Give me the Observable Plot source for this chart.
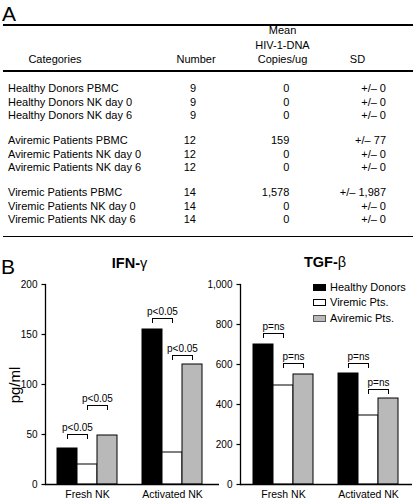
<!DOCTYPE html>
<html>
<head>
<meta charset="utf-8">
<script src="https://cdn.jsdelivr.net/npm/d3@7"></script>
<script src="https://cdn.jsdelivr.net/npm/@observablehq/plot@0.6"></script>
<style>
  body { margin: 0; background: #fff; }
  #root { position: relative; width: 418px; height: 502px; overflow: hidden;
          font-family: "Liberation Sans", Arial, Helvetica, sans-serif; color: #000; background: #fff; }
  .abs { position: absolute; white-space: nowrap; }
  .hr { position: absolute; left: 3px; width: 410px; height: 1.6px; background: #000; }
  .chart { position: absolute; top: 270px; }
  .sw { position: absolute; width: 13px; height: 7px; box-sizing: border-box; }
</style>
</head>
<body>
<div id="root"></div>
<script>
// ---------- Panel A data ----------
const categories = [
  "Healthy Donors PBMC", "Healthy Donors NK day 0", "Healthy Donors NK day 6",
  "Aviremic Patients PBMC", "Aviremic Patients NK day 0", "Aviremic Patients NK day 6",
  "Viremic Patients PBMC", "Viremic Patients NK day 0", "Viremic Patients NK day 6"
];
const rowGroup = [0, 0, 0, 1, 1, 1, 2, 2, 2];
const numbers = [9, 9, 9, 12, 12, 12, 14, 14, 14];
const meanHIV = [0, 0, 0, 159, 0, 0, 1578, 0, 0];
const sdHIV = [0, 0, 0, 77, 0, 0, 1987, 0, 0];
const tableHeaders = ["Categories", "Number", "Mean", "HIV-1-DNA", "Copies/ug", "SD"];

// ---------- Panel B data ----------
const groups = ["Fresh NK", "Activated NK"];
const seriesNames = ["Healthy Donors", "Viremic Pts.", "Aviremic Pts."];
const ifnHealthy = [36, 155];
const ifnViremic = [20, 32];
const ifnAviremic = [49, 120];
const tgfHealthy = [700, 555];
const tgfViremic = [495, 345];
const tgfAviremic = [550, 430];
const ifnTicks = [0, 50, 100, 150, 200];
const tgfTicks = [0, 200, 400, 600, 800, 1000];
// significance brackets: group, pair of bars, level (data units), label
const bracketGroup = ["Fresh NK", "Fresh NK", "Activated NK", "Activated NK"];
const bracketPair = ["HV", "VA", "HV", "VA"];
const ifnBracketLevel = [50, 79, 166, 129];
const tgfBracketLevel = [755, 605, 605, 475];
const ifnBracketLabel = "p<0.05";
const tgfBracketLabel = "p=ns";

// ---------- layout helpers ----------
const FONT = '"Liberation Sans", Arial, Helvetica, sans-serif';
const root = d3.select("#root");
function addText(str, {x, baseline, size = 11, anchor = "start", weight = "normal", html = false}) {
  const d = root.append("div").attr("class", "abs")
    .style("font-size", size + "px").style("line-height", size + "px")
    .style("top", (baseline - 0.8465 * size) + "px")
    .style("font-weight", weight);
  if (anchor === "start") d.style("left", x + "px");
  else if (anchor === "end") d.style("right", (418 - x) + "px");
  else d.style("left", x + "px").style("transform", "translateX(-50%)");
  if (html) d.html(str); else d.text(str);
  return d;
}
function addRule(top) { root.append("div").attr("class", "hr").style("top", top + "px"); }

// ---------- Panel A: table ----------
addText("A", {x: 2, baseline: 20.5, size: 21});
addRule(24.2);
addText(tableHeaders[2], {x: 282.5, baseline: 34.4, anchor: "middle"});
addText(tableHeaders[3], {x: 282.5, baseline: 49, anchor: "middle"});
addText(tableHeaders[4], {x: 282.5, baseline: 63.6, anchor: "middle"});
addText(tableHeaders[0], {x: 55, baseline: 63.6, anchor: "middle"});
addText(tableHeaders[1], {x: 196, baseline: 63.6, anchor: "middle"});
addText(tableHeaders[5], {x: 357.5, baseline: 63.6, anchor: "middle"});
addRule(70.2);
const fmt = d3.format(",");
let within = 0;
categories.forEach((c, i) => {
  if (i > 0 && rowGroup[i] !== rowGroup[i - 1]) within = 0;
  const slot = rowGroup[i] * 3.85 + within;
  const base = 92.3 + slot * 13.55;
  addText(c, {x: 8, baseline: base});
  addText(String(numbers[i]), {x: 196, baseline: base, anchor: "end"});
  addText(fmt(meanHIV[i]), {x: 289.3, baseline: base, anchor: "end"});
  addText("+/\u2013 " + fmt(sdHIV[i]), {x: 386, baseline: base, anchor: "end"});
  within++;
});
addRule(235.8);

// ---------- Panel B ----------
addText("B", {x: 1, baseline: 273.5, size: 21});
addText('IFN-<span style="font-weight:normal">\u03b3</span>', {x: 129.5, baseline: 268, size: 14.5, anchor: "middle", weight: "bold", html: true});
addText('TGF-<span style="font-weight:normal">\u03b2</span>', {x: 325, baseline: 267.5, size: 14.5, anchor: "middle", weight: "bold", html: true});
root.append("div").attr("class", "abs")
  .style("left", "13.5px").style("top", "385px")
  .style("font-size", "15px").style("line-height", "15px")
  .style("transform", "translate(-50%,-50%) rotate(-90deg)")
  .text("pg/ml");

const GRAY = "#b9b9b9";
function barChart({left, width, marginLeft, healthy, viremic, aviremic, yMax, ticks, levels, label, gapLeft}) {
  const L = width - marginLeft;
  const pi = 25 / 85;
  const bwTarget = 60;
  const outerTotal = L - (2 * bwTarget + 25);
  const po = outerTotal / 2 / 85;
  const align = gapLeft / outerTotal;
  const step = L / (groups.length - pi + 2 * po);
  const bw = step * (1 - pi);
  const rows = (vals) => groups.map((g, i) => ({g, v: vals[i]}));
  const br = bracketGroup.map((g, i) => ({g, pair: bracketPair[i], y: levels[i], label}));
  const HV = br.filter(d => d.pair === "HV");
  const VA = br.filter(d => d.pair === "VA");
  const plot = Plot.plot({
    width, height: 232,
    marginLeft, marginRight: 0, marginTop: 14, marginBottom: 18,
    style: {background: "transparent", fontFamily: FONT, overflow: "visible", color: "#000"},
    x: {type: "band", domain: groups, paddingInner: pi, paddingOuter: po, align},
    y: {domain: [0, yMax]},
    marks: [
      Plot.barY(rows(healthy), {x: "g", y: "v", fill: "#000", stroke: "#000", insetLeft: 0, insetRight: 2 * bw / 3}),
      Plot.barY(rows(viremic), {x: "g", y: "v", fill: "#fff", stroke: "#000", insetLeft: bw / 3, insetRight: bw / 3}),
      Plot.barY(rows(aviremic), {x: "g", y: "v", fill: GRAY, stroke: "#000", insetLeft: 2 * bw / 3, insetRight: 0}),
      Plot.ruleY([0], {strokeWidth: 1.3}),
      Plot.frame({anchor: "left", strokeWidth: 1.3}),
      Plot.axisY({ticks, tickSize: 3.5, tickPadding: 4.5, fontSize: 10, label: null, strokeWidth: 1.2}),
      Plot.axisX({tickSize: 0, tickPadding: 6, fontSize: 10.5, label: null}),
      Plot.tickY(HV, {x: "g", y: "y", insetLeft: bw / 6, insetRight: bw / 2}),
      Plot.tickY(VA, {x: "g", y: "y", insetLeft: bw / 2, insetRight: bw / 6}),
      Plot.ruleX(HV, {x: "g", y1: "y", y2: "y", insetTop: 5, dx: -bw / 3}),
      Plot.ruleX(HV, {x: "g", y1: "y", y2: "y", insetTop: 5, dx: 0}),
      Plot.ruleX(VA, {x: "g", y1: "y", y2: "y", insetTop: 5, dx: 0}),
      Plot.ruleX(VA, {x: "g", y1: "y", y2: "y", insetTop: 5, dx: bw / 3}),
      Plot.text(HV, {x: "g", y: "y", text: "label", dx: -bw / 6, dy: -3.5, lineAnchor: "bottom", fontSize: 10}),
      Plot.text(VA, {x: "g", y: "y", text: "label", dx: bw / 6, dy: -3.5, lineAnchor: "bottom", fontSize: 10})
    ]
  });
  const wrap = root.append("div").attr("class", "chart").style("left", left + "px");
  wrap.node().appendChild(plot);
}

barChart({left: 0, width: 219, marginLeft: 45, healthy: ifnHealthy, viremic: ifnViremic, aviremic: ifnAviremic,
          yMax: 200, ticks: ifnTicks, levels: ifnBracketLevel, label: ifnBracketLabel, gapLeft: 12.3});
barChart({left: 200, width: 212, marginLeft: 40, healthy: tgfHealthy, viremic: tgfViremic, aviremic: tgfAviremic,
          yMax: 1000, ticks: tgfTicks, levels: tgfBracketLevel, label: tgfBracketLabel, gapLeft: 12.7});

// ---------- legend ----------
const swatchStyles = [
  {bg: "#000", border: "none"},
  {bg: "#fff", border: "1px solid #000"},
  {bg: GRAY, border: "1px solid #555"}
];
seriesNames.forEach((name, i) => {
  const cy = 287 + i * 15.5;
  root.append("div").attr("class", "sw")
    .style("left", "312.5px").style("top", (cy - 3.5) + "px")
    .style("background", swatchStyles[i].bg).style("border", swatchStyles[i].border);
  addText(name, {x: 330, baseline: cy + 4, size: 11});
});
</script>
</body>
</html>
